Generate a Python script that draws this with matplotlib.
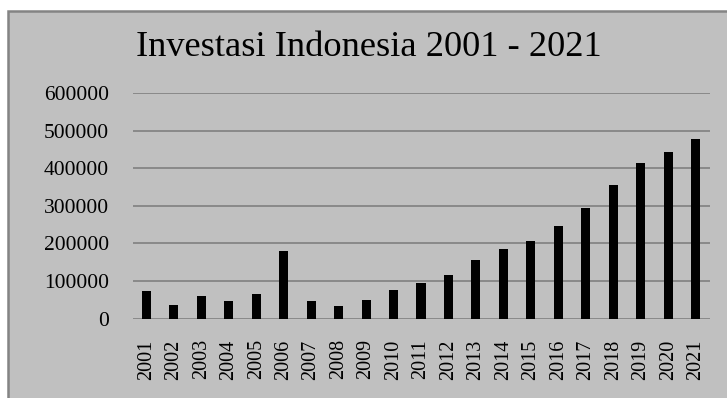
import matplotlib
matplotlib.use("Agg")
import matplotlib.pyplot as plt
from matplotlib.patches import Rectangle

years = [str(y) for y in range(2001, 2022)]
investasi = [72000, 35000, 60500, 46000, 64000, 179500, 46000, 34500, 49000, 77000,
             95000, 115000, 155000, 184000, 207000, 245000, 295000, 355000, 413000,
             442000, 477000]
yticks = [0, 100000, 200000, 300000, 400000, 500000, 600000]
title = "Investasi Indonesia 2001 - 2021"

W, H = 727, 398
fig = plt.figure(figsize=(W / 100, H / 100), dpi=100)
fig.patch.set_facecolor("white")

# chart frame
frame = Rectangle((7.5 / W, -0.2), 1.5, (H - 10.5) / H + 0.2, transform=fig.transFigure,
                  facecolor="#c0c0c0", edgecolor="#848484", linewidth=1.8, zorder=-10)
fig.patches.append(frame)

ax = fig.add_axes([132.5 / W, 79.5 / H, 577 / W, 225.5 / H])
ax.set_zorder(5)
ax.set_facecolor("none")
x = list(range(len(years)))
ax.bar(x, investasi, width=0.33, color="black", zorder=3)
ax.set_xlim(-0.5, len(years) - 0.5)
ax.set_ylim(0, 600000)
ax.set_yticks(yticks)
ax.set_yticklabels([str(v) for v in yticks])
ax.set_xticks(x)
ax.set_xticklabels(years, rotation=90)
for s in ax.spines.values():
    s.set_visible(False)
ax.grid(axis="y", color="#858585", linewidth=1.3, zorder=1)
ax.tick_params(axis="both", length=0, labelcolor="black")
ax.tick_params(axis="y", pad=17, labelsize=15.5)
ax.tick_params(axis="x", pad=15, labelsize=14.5)
for lab in ax.get_xticklabels() + ax.get_yticklabels():
    lab.set_family("Liberation Serif")

fig.text(0.507, 1 - 47 / H, title, ha="center", va="center",
         family="Liberation Serif", fontsize=26.2, color="black", zorder=6)

fig.savefig("out.png", dpi=100)
